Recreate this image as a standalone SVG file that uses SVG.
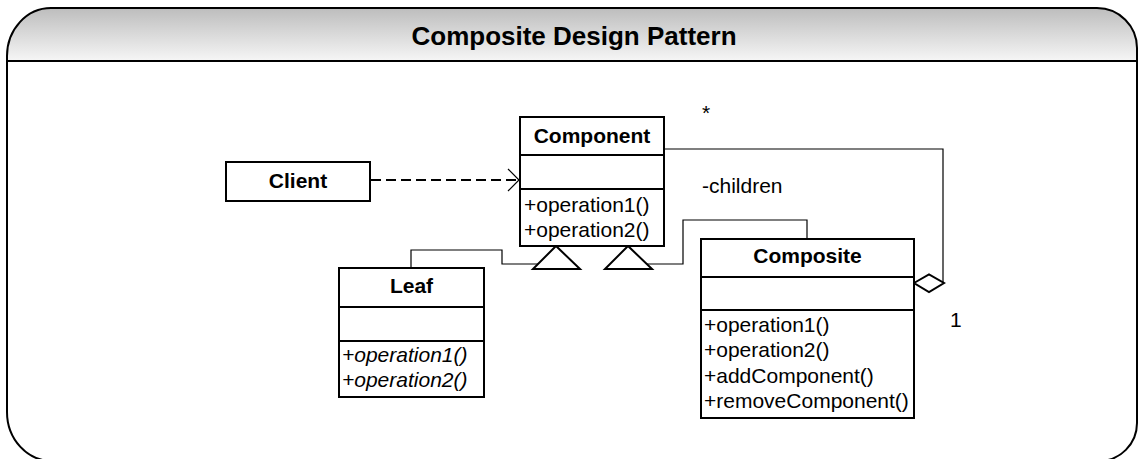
<svg xmlns="http://www.w3.org/2000/svg" width="1138" height="459" viewBox="0 0 1138 459">
<defs>
<linearGradient id="hdr" x1="0" y1="0" x2="0" y2="1">
<stop offset="0" stop-color="#bdbdbd"/>
<stop offset="1" stop-color="#f6f6f6"/>
</linearGradient>
<style>
.box{fill:#fff;stroke:#000;stroke-width:2}
.div{stroke:#000;stroke-width:2}
.name{font-family:"Liberation Sans",Arial,sans-serif;font-size:21px;font-weight:bold;text-anchor:middle;fill:#000}
.op{font-family:"Liberation Sans",Arial,sans-serif;font-size:21px;fill:#000}
.it{font-style:italic}
.ln{fill:none;stroke:#000;stroke-width:1.2}
.tri{fill:#fff;stroke:#000;stroke-width:2}
</style>
</defs>
<rect x="0" y="0" width="1138" height="459" fill="#fff"/>
<g id="frame">
<path d="M7,61 L7,56 A44,48 0 0 1 51,8 L1097,8 A40,40 0 0 1 1137,48 L1137,61 Z" fill="url(#hdr)"/>
<path d="M7,412 L7,56 A44,48 0 0 1 51,8 L1097,8 A40,40 0 0 1 1137,48 L1137,423 A38,38 0 0 1 1099,461 L52,461 A45,49 0 0 1 7,412 Z" fill="none" stroke="#000" stroke-width="2"/>
<line x1="7" y1="61" x2="1137" y2="61" stroke="#000" stroke-width="2"/>
<text x="574" y="45" font-family="'Liberation Sans',Arial,sans-serif" font-size="26" font-weight="bold" text-anchor="middle">Composite Design Pattern</text>
</g>
<g id="connectors">
<line x1="371" y1="180" x2="518" y2="180" stroke="#000" stroke-width="2" stroke-dasharray="10 5"/>
<polyline class="ln" points="508,169 519,180 508,191" stroke-width="1.5"/>
<polyline class="ln" points="411,268 411,250 502,250 502,264 538,264"/>
<polyline class="ln" points="807,239 807,220 683,220 683,264 647,264"/>
<polygon class="tri" points="556,246 533,269 580,269"/>
<polygon class="tri" points="628,246 605,269 652,269"/>
<polyline class="ln" points="664,149 943,149 943,283"/>
<polygon points="914,283 929,274.5 944,283 929,292" fill="#fff" stroke="#000" stroke-width="2"/>
<text class="op" x="702" y="120">*</text>
<text class="op" x="702" y="193">-children</text>
<text class="op" x="950" y="327">1</text>
</g>
<g id="client">
<rect class="box" x="226" y="162" width="144" height="39"/>
<text class="name" x="298" y="188">Client</text>
</g>
<g id="component">
<rect class="box" x="520" y="117" width="144" height="129"/>
<line class="div" x1="520" y1="155" x2="664" y2="155"/>
<line class="div" x1="520" y1="189" x2="664" y2="189"/>
<text class="name" x="592" y="143">Component</text>
<text class="op" x="524" y="212">+operation1()</text>
<text class="op" x="524" y="237">+operation2()</text>
</g>
<g id="leaf">
<rect class="box" x="339" y="268" width="145" height="129"/>
<line class="div" x1="339" y1="307" x2="484" y2="307"/>
<line class="div" x1="339" y1="341" x2="484" y2="341"/>
<text class="name" x="411.5" y="293">Leaf</text>
<text class="op it" x="342" y="362">+operation1()</text>
<text class="op it" x="342" y="387">+operation2()</text>
</g>
<g id="composite">
<rect class="box" x="701" y="239" width="213" height="179"/>
<line class="div" x1="701" y1="277" x2="914" y2="277"/>
<line class="div" x1="701" y1="310" x2="914" y2="310"/>
<text class="name" x="807.5" y="263">Composite</text>
<text class="op" x="704" y="332">+operation1()</text>
<text class="op" x="704" y="357">+operation2()</text>
<text class="op" x="704" y="383">+addComponent()</text>
<text class="op" x="704" y="408">+removeComponent()</text>
</g>
</svg>
